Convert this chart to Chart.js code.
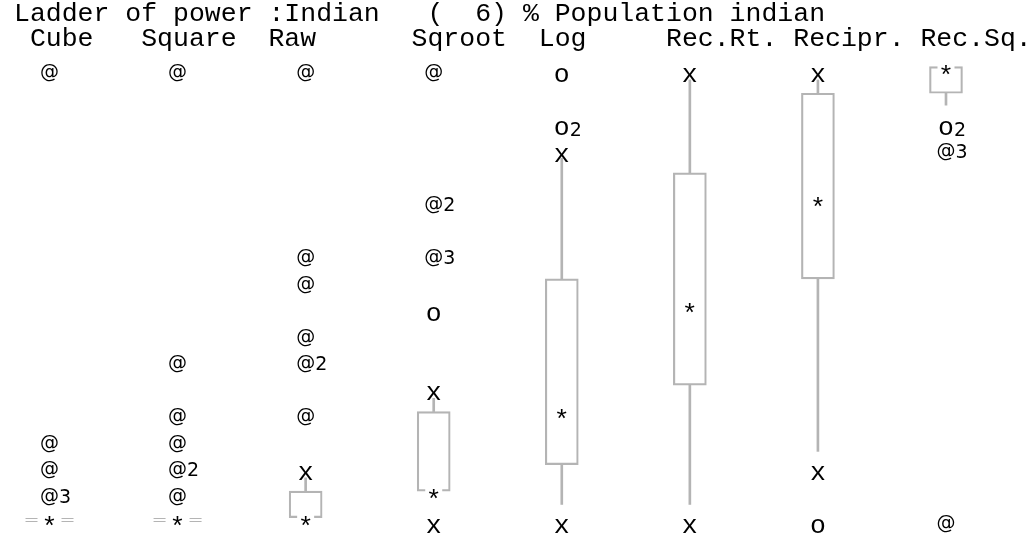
<!DOCTYPE html>
<html>
<head>
<meta charset="utf-8">
<script src="https://cdn.jsdelivr.net/npm/chart.js@4.4.1/dist/chart.umd.min.js"></script>
<style>
  html, body { margin: 0; padding: 0; background: #fff; }
</style>
</head>
<body>
<canvas id="ladder" width="1032" height="537"></canvas>
<script>
// ladder of powers, one column per transform
const transforms = ['Cube', 'Square', 'Raw', 'Sqroot', 'Log', 'Rec.Rt.', 'Recipr.', 'Rec.Sq.'];
const titleText = 'Ladder of power :Indian   (  6) % Population indian';
const headerText = ' Cube   Square  Raw      Sqroot  Log     Rec.Rt. Recipr. Rec.Sq.';

// values are lines of the character plot: 0 = top line, 17 = bottom line
// [column, line, count]
const farOut = [
  [0, 0, 1], [0, 14, 1], [0, 15, 1], [0, 16, 3],
  [1, 0, 1], [1, 11, 1], [1, 13, 1], [1, 14, 1], [1, 15, 2], [1, 16, 1],
  [2, 0, 1], [2, 7, 1], [2, 8, 1], [2, 10, 1], [2, 11, 2], [2, 13, 1],
  [3, 0, 1], [3, 5, 2], [3, 7, 3],
  [7, 3, 3], [7, 17, 1]
];
const outside = [[3, 9, 1], [4, 0, 1], [4, 2, 2], [6, 17, 1], [7, 2, 2]];
const adjacent = [
  [2, 15, 1], [3, 12, 1], [3, 17, 1], [4, 3, 1], [4, 17, 1],
  [5, 0, 1], [5, 17, 1], [6, 0, 1], [6, 15, 1]
];
const medians = [17, 17, 17, 16, 13, 9, 5, 0];
const boxHi = [17, 17, 15.8, 12.8, 7.8, 3.8, 0.8, -0.2];
const boxLo = [17, 17, 16.8, 15.8, 14.8, 11.8, 7.8, 0.8];
const whiskUp = [null, null, [15.3, 15.8], [12.3, 12.8], [3.25, 7.8], [0.3, 3.8], [0.3, 0.8], null];
const whiskDown = [null, null, null, null, [14.8, 16.3], [11.8, 16.3], [7.8, 14.3], [0.8, 1.25]];

const gray = '#b4b4b4';
const monoFont = '26.5px "Liberation Mono"';
const sansFont = '19px "DejaVu Sans"';
const countFont = '19px "DejaVu Sans"';

// pixel frame of the plot lines
const areaLeft = 14, areaTop = 56;
const colPx = 128.07, rowPx = 26.53;
const xMin = -(49.5 - areaLeft) / colPx;
const xMax = xMin + (1032 - areaLeft) / colPx;
const yMin = -(72 - areaTop) / rowPx;
const yMax = yMin + (537 - areaTop) / rowPx;

const toPoints = list => list.map(([c, r, n]) => ({ x: c, y: r, n: n }));
const toBars = list => list.map((w, i) => w ? { x: i, y: w } : null).filter(Boolean);

function drawMark(ctx, glyph, n, cx, cy, font, dy) {
  ctx.font = font;
  const m = ctx.measureText(glyph);
  const x0 = cx - (m.actualBoundingBoxRight - m.actualBoundingBoxLeft) / 2;
  const yb = cy + (m.actualBoundingBoxAscent - m.actualBoundingBoxDescent) / 2 + dy;
  ctx.fillText(glyph, x0, yb);
  if (n > 1) {
    ctx.font = countFont;
    ctx.fillText(String(n), x0 + m.actualBoundingBoxRight + 1, yb + 1);
  }
}

const marksPlugin = {
  id: 'marks',
  afterDatasetsDraw(chart) {
    const ctx = chart.ctx;
    const xs = chart.scales.x, ys = chart.scales.y;
    ctx.save();
    ctx.textAlign = 'left';
    ctx.textBaseline = 'alphabetic';

    // collapsed boxes shown as ==*==
    ctx.strokeStyle = gray;
    ctx.lineWidth = 1;
    boxHi.forEach((hi, i) => {
      if (hi !== boxLo[i]) return;
      const cx = xs.getPixelForValue(i), cy = ys.getPixelForValue(hi);
      ctx.beginPath();
      [-5, -2].forEach(d => {
        ctx.moveTo(cx - 24, cy + d + 0.5); ctx.lineTo(cx - 12, cy + d + 0.5);
        ctx.moveTo(cx + 12, cy + d + 0.5); ctx.lineTo(cx + 24, cy + d + 0.5);
      });
      ctx.stroke();
    });

    chart.data.datasets.forEach((ds, di) => {
      if (!ds.glyph) return;
      const meta = chart.getDatasetMeta(di);
      meta.data.forEach((pt, j) => {
        if (ds.knockout) {
          ctx.fillStyle = '#fff';
          ctx.fillRect(pt.x - 8.5, pt.y - 8.5, 17, 7);
        }
        ctx.fillStyle = '#000';
        drawMark(ctx, ds.glyph, ds.data[j].n || 1, pt.x, pt.y, ds.glyphFont, ds.glyphDy);
      });
    });
    ctx.restore();
  }
};

const ctx = document.getElementById('ladder').getContext('2d');
const ladderChart = new Chart(ctx, {
  type: 'bar',
  data: {
    datasets: [
      { label: 'upper whisker', data: toBars(whiskUp), backgroundColor: gray, borderWidth: 0, barThickness: 2, grouped: false },
      { label: 'lower whisker', data: toBars(whiskDown), backgroundColor: gray, borderWidth: 0, barThickness: 2, grouped: false },
      {
        label: 'box',
        data: boxHi.map((hi, i) => hi < boxLo[i] ? { x: i, y: [hi, boxLo[i]] } : null).filter(Boolean),
        backgroundColor: 'rgba(255,255,255,0)', borderColor: gray, borderWidth: 1.5,
        borderSkipped: false, barThickness: 33, grouped: false
      },
      { type: 'scatter', label: 'median', data: medians.map((r, i) => ({ x: i, y: r })), pointRadius: 0,
        glyph: '*', glyphFont: monoFont, glyphDy: -2.5, knockout: true },
      { type: 'scatter', label: 'adjacent', data: toPoints(adjacent), pointRadius: 0,
        glyph: 'x', glyphFont: monoFont, glyphDy: 3 },
      { type: 'scatter', label: 'outside', data: toPoints(outside), pointRadius: 0,
        glyph: 'o', glyphFont: monoFont, glyphDy: 3 },
      { type: 'scatter', label: 'far out', data: toPoints(farOut), pointRadius: 0,
        glyph: '@', glyphFont: sansFont, glyphDy: 0 }
    ]
  },
  options: {
    responsive: false,
    animation: false,
    devicePixelRatio: 1,
    layout: { padding: { left: areaLeft, top: 0, right: 0, bottom: 0 } },
    plugins: {
      legend: { display: false },
      tooltip: { enabled: false },
      title: {
        display: true,
        text: [titleText, headerText],
        align: 'start',
        color: '#000',
        font: { family: 'Liberation Mono', size: 26.5, weight: 'normal', lineHeight: 25 / 26.5 },
        padding: { top: 1, bottom: 5 }
      }
    },
    scales: {
      x: { type: 'linear', display: false, offset: false, min: xMin, max: xMax },
      y: { type: 'linear', display: false, reverse: true, min: yMin, max: yMax }
    }
  },
  plugins: [marksPlugin]
});
</script>
</body>
</html>
